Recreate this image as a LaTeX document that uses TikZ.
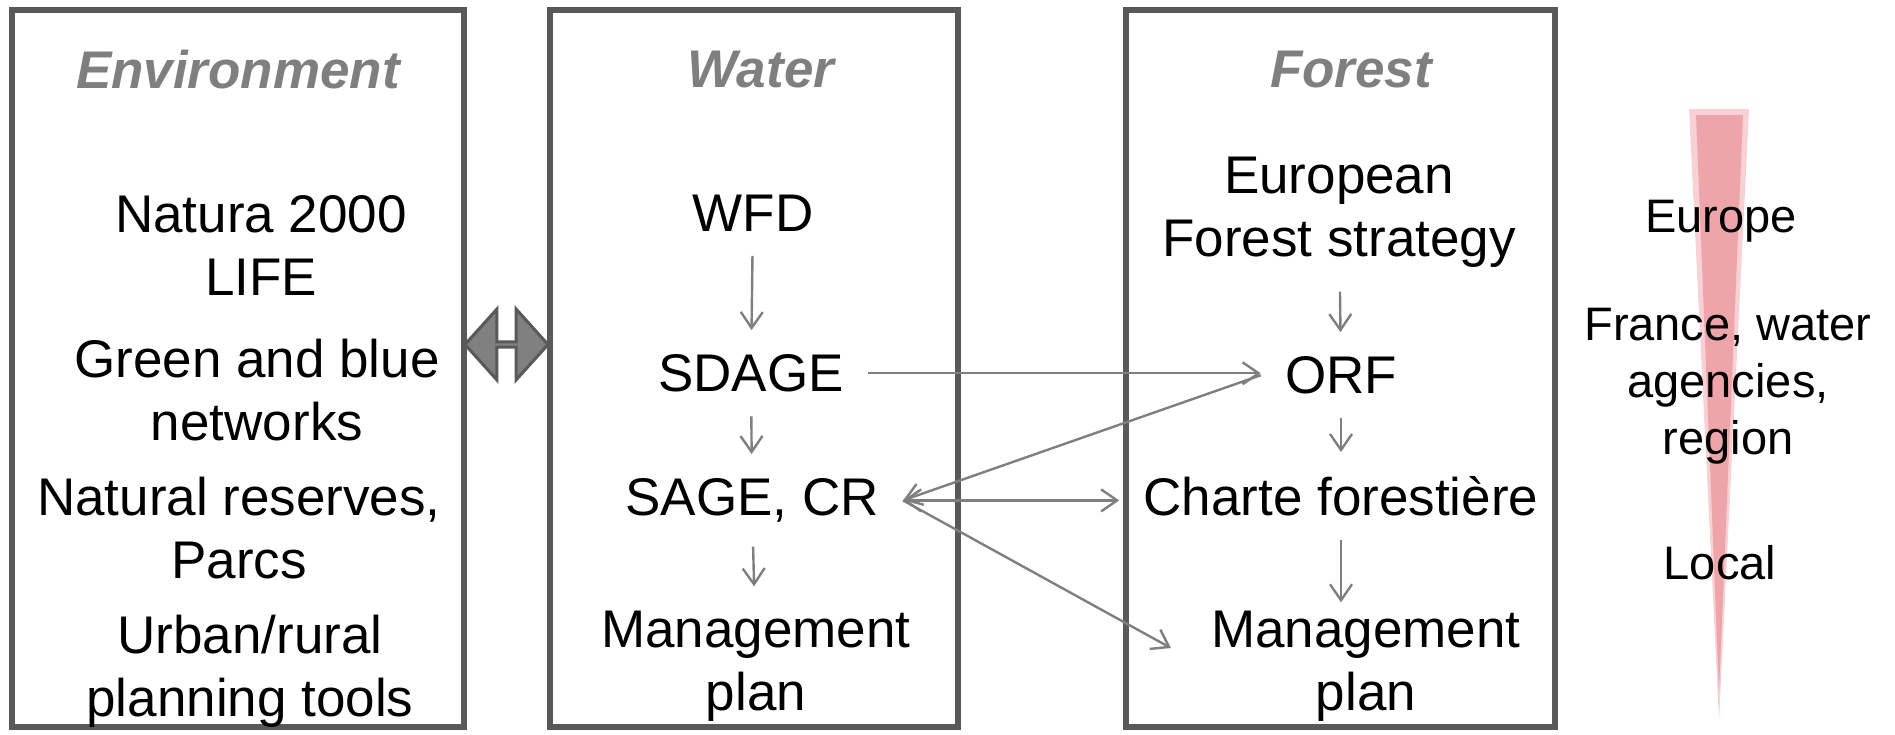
\documentclass[tikz,border=0pt]{standalone}
\usepackage{fontspec}
\setmainfont{Liberation Sans}
\usepackage{tikz}
\usetikzlibrary{arrows.meta,positioning,shapes.arrows}
\definecolor{frame}{HTML}{595959}
\definecolor{headgray}{HTML}{7F7F7F}
\definecolor{linkgray}{HTML}{808080}
\definecolor{rosepale}{HTML}{F7D1D4}
\definecolor{rosedeep}{HTML}{EEA5AA}

\begin{document}
\begin{tikzpicture}[x=0.5pt,y=-0.5pt,
  panel/.style={rectangle,draw=frame,line width=3pt,minimum height=358.5pt,inner sep=0pt},
  title/.style={font=\fontsize{26.5}{31.5}\selectfont\bfseries\itshape,text=headgray,inner sep=0pt},
  item/.style={align=center,inner sep=12pt,font=\fontsize{26.5}{31.5}\selectfont},
  level/.style={align=center,inner sep=0pt,font=\fontsize{23.5}{28.5}\selectfont},
  flow/.style={draw=headgray,line width=1.2pt,-{Straight Barb[length=8pt,width=11pt]}}]
\useasboundingbox (0,0) rectangle (1895,734);
% panels
\node[panel,minimum width=226pt] (envbox) at (238,368.5) {};
\node[panel,minimum width=204pt] (waterbox) at (754,368.5) {};
\node[panel,minimum width=214.5pt] (forestbox) at (1340.5,368.5) {};
\node[double arrow,draw=frame,fill=linkgray,line width=1.5pt,minimum height=41.5pt,minimum width=35.5pt,double arrow head extend=9.5pt,double arrow tip angle=96,inner sep=0pt] (link) at (506.5,344.5) {};
% scale wedge
\fill[rosepale] (1689,109) -- (1749,109) -- (1719,720) -- cycle;
\fill[rosedeep] (1696,115) -- (1743,115) -- (1719,692) -- cycle;
% titles
\node[title] (envtitle) at (238,70) {Environment};
\node[title] (watertitle) at (761,70) {Water};
\node[title] (foresttitle) at (1351,70) {Forest};
% environment
\node[item] (natura) at (261,245.5) {Natura 2000\\LIFE};
\node[item] (green) at (257,390) {Green and blue\\networks};
\node[item] (reserves) at (239,528) {Natural reserves,\\Parcs};
\node[item] (urban) at (250,671.5) {Urban/rural\\planning tools};
% water
\node[item,anchor=base] (wfd) at (753,231.5) {WFD};
\node[item,anchor=base] (sdage) at (751,391.5) {SDAGE};
\node[item,anchor=base] (sage) at (752,515.5) {SAGE, CR};
\node[item] (wmgmt) at (756,666) {Management\\plan};
% forest
\node[item] (european) at (1339,212) {European\\Forest strategy};
\node[item,anchor=base] (orf) at (1341,393.5) {ORF};
\node[item,anchor=base] (charte) at (1341,515.5) {Charte forestière};
\node[item] (fmgmt) at (1366,666) {Management\\plan};
% levels
\node[level,anchor=base] (europe) at (1721,232) {Europe};
\node[level] (national) at (1728,386) {France, water\\agencies,\\region};
\node[level] (local) at (1720,563) {Local};
% links
\draw[flow] (wfd) -- (sdage);
\draw[flow] (sdage) -- (sage);
\draw[flow] (sage) -- (wmgmt);
\draw[flow] (european) -- (orf);
\draw[flow] (orf) -- (charte);
\draw[flow] (charte.south) -- ([yshift=-8pt]charte.south |- fmgmt.north);
\draw[flow] (sdage.east) -- (sdage.east -| orf.west);
\draw[flow] (orf.west) -- (sage.east);
\draw[flow,{Straight Barb[length=8pt,width=11pt]}-{Straight Barb[length=8pt,width=11pt]}] (sage.east) -- (sage.east -| charte.west);
\draw[flow] (sage.east) -- ([shift={(-8pt,9pt)}]fmgmt.west);
\end{tikzpicture}
\end{document}
